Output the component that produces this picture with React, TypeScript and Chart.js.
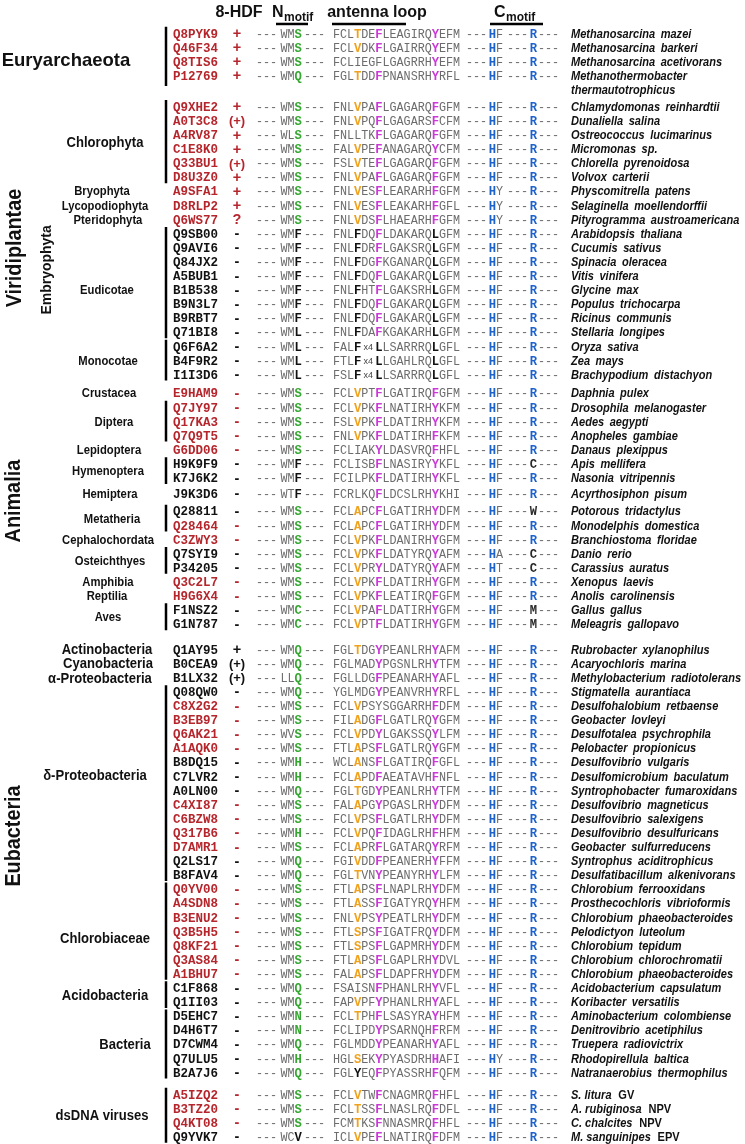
import { useEffect, useRef } from "react";
import { Chart, registerables } from "chart.js";

Chart.register(...registerables);

// ---------------- DATA ----------------
const accessions = [
  "Q8PYK9", "Q46F34", "Q8TIS6", "P12769",
  "Q9XHE2", "A0T3C8", "A4RV87", "C1E8K0", "Q33BU1", "D8U3Z0",
  "A9SFA1", "D8RLP2", "Q6WS77",
  "Q9SB00", "Q9AVI6", "Q84JX2", "A5BUB1", "B1B538", "B9N3L7", "B9RBT7", "Q71BI8",
  "Q6F6A2", "B4F9R2", "I1I3D6",
  "E9HAM9", "Q7JY97", "Q17KA3", "Q7Q9T5", "G6DD06", "H9K9F9", "K7J6K2", "J9K3D6",
  "Q28811", "Q28464", "C3ZWY3", "Q7SYI9", "P34205", "Q3C2L7", "H9G6X4", "F1NSZ2", "G1N787",
  "Q1AY95", "B0CEA9", "B1LX32",
  "Q08QW0", "C8X2G2", "B3EB97", "Q6AK21", "A1AQK0", "B8DQ15", "C7LVR2", "A0LN00", "C4XI87", "C6BZW8", "Q317B6", "D7AMR1", "Q2LS17", "B8FAV4",
  "Q0YV00", "A4SDN8", "B3ENU2", "Q3B5H5", "Q8KF21", "Q3AS84", "A1BHU7",
  "C1F868", "Q1II03",
  "D5EHC7", "D4H6T7", "D7CWM4", "Q7ULU5", "B2A7J6",
  "A5IZQ2", "B3TZ20", "Q4KT08", "Q9YVK7",
];

const redAccessions = [
  "Q8PYK9", "Q46F34", "Q8TIS6", "P12769",
  "Q9XHE2", "A0T3C8", "A4RV87", "C1E8K0", "Q33BU1", "D8U3Z0",
  "A9SFA1", "D8RLP2", "Q6WS77",
  "E9HAM9", "Q7JY97", "Q17KA3", "Q7Q9T5", "G6DD06",
  "Q28464", "C3ZWY3", "Q3C2L7", "H9G6X4",
  "C8X2G2", "B3EB97", "Q6AK21", "A1AQK0", "C4XI87", "C6BZW8", "Q317B6", "D7AMR1",
  "Q0YV00", "A4SDN8", "B3ENU2", "Q3B5H5", "Q8KF21", "Q3AS84", "A1BHU7",
  "A5IZQ2", "B3TZ20", "Q4KT08",
];

const hdfStatus = [
  "+", "+", "+", "+",
  "+", "(+)", "+", "+", "(+)", "+",
  "+", "+", "?",
  "-", "-", "-", "-", "-", "-", "-", "-",
  "-", "-", "-",
  "-", "-", "-", "-", "-", "-", "-", "-",
  "-", "-", "-", "-", "-", "-", "-", "-", "-",
  "+", "(+)", "(+)",
  "-", "-", "-", "-", "-", "-", "-", "-", "-", "-", "-", "-", "-", "-",
  "-", "-", "-", "-", "-", "-", "-",
  "-", "-",
  "-", "-", "-", "-", "-",
  "-", "-", "-", "-",
];

const nMotifs = [
  "WMS", "WMS", "WMS", "WMQ",
  "WMS", "WMS", "WLS", "WMS", "WMS", "WMS",
  "WMS", "WMS", "WMS",
  "WMF", "WMF", "WMF", "WMF", "WMF", "WMF", "WMF", "WML",
  "WML", "WML", "WML",
  "WMS", "WMS", "WMS", "WMS", "WMS", "WMF", "WMF", "WTF",
  "WMS", "WMS", "WMS", "WMS", "WMS", "WMS", "WMS", "WMC", "WMC",
  "WMQ", "WMQ", "LLQ",
  "WMQ", "WMS", "WMS", "WVS", "WMS", "WMH", "WMH", "WMQ", "WMS", "WMS", "WMH", "WMS", "WMQ", "WMQ",
  "WMS", "WMS", "WMS", "WMS", "WMS", "WMS", "WMS",
  "WMQ", "WMQ",
  "WMN", "WMN", "WMQ", "WMH", "WMQ",
  "WMS", "WMS", "WMS", "WCV",
];

// "##" marks the small "x4" insertion symbol
const antennaLoops = [
  "FCLTDEFLEAGIRQYEFM", "FCLVDKFLGAIRRQYEFM", "FCLIEGFLGAGRRHYEFM", "FGLTDDFPNANSRHYRFL",
  "FNLVPAFLGAGARQFGFM", "FNLVPQFLGAGARSFCFM", "FNLLTKFLGAGARQFGFM", "FALVPEFANAGARQYCFM", "FSLVTEFLGAGARQFGFM", "FNLVPAFLGAGARQFGFM",
  "FNLVESFLEARARHFGFM", "FNLVESFLEAKARHFGFL", "FNLVDSFLHAEARHFGFM",
  "FNLFDQFLDAKARQLGFM", "FNLFDRFLGAKSRQLGFM", "FNLFDGFKGANARQLGFM", "FNLFDQFLGAKARQLGFM", "FNLFHTFLGAKSRHLGFM", "FNLFDQFLGAKARQLGFM", "FNLFDQFLGAKARQLGFM", "FNLFDAFKGAKARHLGFM",
  "FALF##LLSARRRQLGFL", "FTLF##LLGAHLRQLGFL", "FSLF##LLSARRRQLGFL",
  "FCLVPTFLGATIRQFGFM", "FCLVPKFLNATIRHYKFM", "FSLVPKFLDATIRHYKFM", "FNLVPKFLDATIRHFKFM", "FCLIAKYLDASVRQFHFL", "FCLISBFLNASIRYYKFL", "FCILPKFLDATIRHYKFL", "FCRLKQFLDCSLRHYKHI",
  "FCLAPCFLGATIRHYDFM", "FCLAPCFLGATIRHYDFM", "FCLVPKFLDANIRHYGFM", "FCLVPKFLDATYRQYAFM", "FCLVPRYLDATYRQYAFM", "FCLVPKFLDATIRHYGFM", "FCLVPKFLEATIRQFGFM", "FCLVPAFLDATIRHYGFM", "FCLVPTFLDATIRHYGFM",
  "FGLTDGYPEANLRHYAFM", "FGLMADYPGSNLRHYTFM", "FGLLDGFPEANARHYAFL",
  "YGLMDGYPEANVRHYRFL", "FCLVPSYSGGARRHFDFM", "FILADGFLGATLRQYGFM", "FCLVPDYLGAKSSQYLFM", "FTLAPSFLGATLRQYGFM", "WCLANSFLGATIRQFGFL", "FCLAPDFAEATAVHFNFL", "FGLTGDYPEANLRHYTFM", "FALAPGYPGASLRHYDFM", "FCLVPSFLGATLRHYDFM", "FCLVPQFIDAGLRHFHFM", "FCLAPRFLGATARQYRFM", "FGIVDDFPEANERHYFFM", "FGLTVNYPEANYRHYLFM",
  "FTLAPSFLNAPLRHYDFM", "FTLASSFIGATYRQYHFM", "FNLVPSYPEATLRHYDFM", "FTLSPSFIGATFRQYDFM", "FTLSPSFLGAPMRHYDFM", "FTLAPSFLGAPLRHYDVL", "FALAPSFLDAPFRHYDFM",
  "FSAISNFPHANLRHYVFL", "FAPVPFYPHANLRHYAFL",
  "FCLTPHFLSASYRAYHFM", "FCLIPDYPSARNQHFRFM", "FGLMDDYPEANARHYAFL", "HGLSEKYPYASDRHHAFI", "FGLYEQFPYASSRHFQFM",
  "FCLVTWFCNAGMRQFHFL", "FCLTSSFLNASLRQFDFL", "FCMTKSFNNASMRQFHFL", "ICLVPEFLNATIRQFDFM",
];

const cMotifHis = [
  "HF", "HF", "HF", "HF",
  "HF", "HF", "HF", "HF", "HF", "HF",
  "HY", "HY", "HY",
  "HF", "HF", "HF", "HF", "HF", "HF", "HF", "HF",
  "HF", "HF", "HF",
  "HF", "HF", "HF", "HF", "HF", "HF", "HF", "HF",
  "HF", "HF", "HF", "HA", "HT", "HF", "HF", "HF", "HF",
  "HF", "HF", "HF",
  "HF", "HF", "HF", "HF", "HF", "HF", "HF", "HF", "HF", "HF", "HF", "HF", "HF", "HF",
  "HF", "HF", "HF", "HF", "HF", "HF", "HF",
  "HF", "HF",
  "HF", "HF", "HF", "HY", "HF",
  "HF", "HF", "HF", "HF",
];

const cMotifArg = [
  "R", "R", "R", "R",
  "R", "R", "R", "R", "R", "R",
  "R", "R", "R",
  "R", "R", "R", "R", "R", "R", "R", "R",
  "R", "R", "R",
  "R", "R", "R", "R", "R", "C", "R", "R",
  "W", "R", "R", "C", "C", "R", "R", "M", "M",
  "R", "R", "R",
  "R", "R", "R", "R", "R", "R", "R", "R", "R", "R", "R", "R", "R", "R",
  "R", "R", "R", "R", "R", "R", "R",
  "R", "R",
  "R", "R", "R", "R", "R",
  "R", "R", "R", "R",
];

// "|" separates the italic name from an upright suffix
const species = [
  "Methanosarcina mazei", "Methanosarcina barkeri", "Methanosarcina acetivorans", "Methanothermobacter",
  "Chlamydomonas reinhardtii", "Dunaliella salina", "Ostreococcus lucimarinus", "Micromonas sp.", "Chlorella pyrenoidosa", "Volvox carterii",
  "Physcomitrella patens", "Selaginella moellendorffii", "Pityrogramma austroamericana",
  "Arabidopsis thaliana", "Cucumis sativus", "Spinacia oleracea", "Vitis vinifera", "Glycine max", "Populus trichocarpa", "Ricinus communis", "Stellaria longipes",
  "Oryza sativa", "Zea mays", "Brachypodium distachyon",
  "Daphnia pulex", "Drosophila melanogaster", "Aedes aegypti", "Anopheles gambiae", "Danaus plexippus", "Apis mellifera", "Nasonia vitripennis", "Acyrthosiphon pisum",
  "Potorous tridactylus", "Monodelphis domestica", "Branchiostoma floridae", "Danio rerio", "Carassius auratus", "Xenopus laevis", "Anolis carolinensis", "Gallus gallus", "Meleagris gallopavo",
  "Rubrobacter xylanophilus", "Acaryochloris marina", "Methylobacterium radiotolerans",
  "Stigmatella aurantiaca", "Desulfohalobium retbaense", "Geobacter lovleyi", "Desulfotalea psychrophila", "Pelobacter propionicus", "Desulfovibrio vulgaris", "Desulfomicrobium baculatum", "Syntrophobacter fumaroxidans", "Desulfovibrio magneticus", "Desulfovibrio salexigens", "Desulfovibrio desulfuricans", "Geobacter sulfurreducens", "Syntrophus aciditrophicus", "Desulfatibacillum alkenivorans",
  "Chlorobium ferrooxidans", "Prosthecochloris vibrioformis", "Chlorobium phaeobacteroides", "Pelodictyon luteolum", "Chlorobium tepidum", "Chlorobium chlorochromatii", "Chlorobium phaeobacteroides",
  "Acidobacterium capsulatum", "Koribacter versatilis",
  "Aminobacterium colombiense", "Denitrovibrio acetiphilus", "Truepera radiovictrix", "Rhodopirellula baltica", "Natranaerobius thermophilus",
  "S. litura|GV", "A. rubiginosa|NPV", "C. chalcites|NPV", "M. sanguinipes|EPV",
];
const speciesContinuation = { P12769: "thermautotrophicus" };

// taxon groups: name, first member, last member
const taxonNames = [
  "Euryarchaeota", "Chlorophyta", "Bryophyta", "Lycopodiophyta", "Pteridophyta", "Eudicotae", "Monocotae",
  "Crustacea", "Diptera", "Lepidoptera", "Hymenoptera", "Hemiptera", "Metatheria", "Cephalochordata",
  "Osteichthyes", "Amphibia", "Reptilia", "Aves", "Actinobacteria", "Cyanobacteria", "α-Proteobacteria",
  "δ-Proteobacteria", "Chlorobiaceae", "Acidobacteria", "Bacteria", "dsDNA viruses",
];
const taxonFirst = [
  "Q8PYK9", "Q9XHE2", "A9SFA1", "D8RLP2", "Q6WS77", "Q9SB00", "Q6F6A2",
  "E9HAM9", "Q7JY97", "G6DD06", "H9K9F9", "J9K3D6", "Q28811", "C3ZWY3",
  "Q7SYI9", "Q3C2L7", "H9G6X4", "F1NSZ2", "Q1AY95", "B0CEA9", "B1LX32",
  "Q08QW0", "Q0YV00", "C1F868", "D5EHC7", "A5IZQ2",
];
const taxonLast = [
  "P12769", "D8U3Z0", "A9SFA1", "D8RLP2", "Q6WS77", "Q71BI8", "I1I3D6",
  "E9HAM9", "Q7Q9T5", "G6DD06", "K7J6K2", "J9K3D6", "Q28464", "C3ZWY3",
  "P34205", "Q3C2L7", "H9G6X4", "G1N787", "Q1AY95", "B0CEA9", "B1LX32",
  "B8FAV4", "A1BHU7", "Q1II03", "B2A7J6", "Q9YVK7",
];

const kingdomNames = ["Viridiplantae", "Embryophyta", "Animalia", "Eubacteria"];

const headerLabels = ["8-HDF", "N", "antenna loop", "C"];

// ---------------- LAYOUT / STYLE ----------------
const rowGapBefore: Record<string, number> = {
  Q9XHE2: 1.2, E9HAM9: 0.33, J9K3D6: 0.1, Q28811: 0.27, Q1AY95: 0.8, A5IZQ2: 0.55,
};
const PX_TOP = 33;
const ROW_PX = 14.1;
const H = 1144;
const W = 745;

const L = {
  acc: 173, sign: 237, dash1: 256, nMotif: 280.5, dash2: 304, antenna: 333, dash3: 466,
  hf: 489, dash4: 507, r: 530, dash5: 538, species: 571, bar: 166, pitch: 7.06,
};

const taxonStyle: Record<string, { x: number; size: number; sx: number; dy: number }> = {
  Euryarchaeota: { x: 66, size: 18.5, sx: 1, dy: 0.4 },
  Chlorophyta: { x: 105, size: 14.5, sx: 0.9, dy: 0 },
  Eudicotae: { x: 107, size: 12.5, sx: 0.9, dy: 0.5 },
  Actinobacteria: { x: 107, size: 14.5, sx: 0.9, dy: 0 },
  Cyanobacteria: { x: 108, size: 14.5, sx: 0.9, dy: 0 },
  "α-Proteobacteria": { x: 100, size: 14.5, sx: 0.9, dy: 0 },
  "δ-Proteobacteria": { x: 95, size: 14.5, sx: 0.9, dy: -0.6 },
  Chlorobiaceae: { x: 105, size: 14.5, sx: 0.9, dy: 0.5 },
  Acidobacteria: { x: 105, size: 14.5, sx: 0.9, dy: 0 },
  Bacteria: { x: 125, size: 14.5, sx: 0.9, dy: 0 },
  "dsDNA viruses": { x: 102, size: 14.5, sx: 0.9, dy: 0 },
};
const smallTaxonX: Record<string, number> = {
  Bryophyta: 102, Lycopodiophyta: 105, Pteridophyta: 108, Monocotae: 108, Crustacea: 109, Diptera: 114,
  Lepidoptera: 109, Hymenoptera: 108, Hemiptera: 110, Metatheria: 112, Cephalochordata: 108,
  Osteichthyes: 110, Amphibia: 108, Reptilia: 107, Aves: 108,
};
// rotated kingdom labels: center (row units), x px, font size
const kingdomStyle = [
  { row: 15.25, x: 15, size: 22 },
  { row: 16.8, x: 47, size: 15.5 },
  { row: 33.2, x: 14, size: 22 },
  { row: 56.95, x: 14, size: 22 },
];

const C = {
  red: "#b5262c", gray: "#6c6c6c", orange: "#f0a21c", magenta: "#cc38d8",
  green: "#36a832", blue: "#1d62cc", black: "#111111",
};
const MONO = '"Liberation Mono", "DejaVu Sans Mono", monospace';
const SANS = '"Liberation Sans", Arial, sans-serif';

const plainAt6 = ["Q8TIS6", "C8X2G2"];

function rowPositions(): number[] {
  const pos: number[] = [];
  let v = 0;
  accessions.forEach((a, i) => {
    if (i > 0) v += 1 + (rowGapBefore[a] ?? 0);
    pos.push(v);
  });
  return pos;
}

function antennaStyle(seq: string, i: number, acc: string): string {
  const c = seq[i];
  if (i === 3) {
    if ("VTAS".includes(c)) return "o";
    if ("FY".includes(c)) return "k";
  }
  if (i === 6) {
    if (plainAt6.includes(acc)) return "n";
    if ("FY".includes(c)) return "m";
    if (c === "L") return "k";
  }
  if (i === 14) {
    if ("FYH".includes(c)) return "m";
    if (c === "L") return "k";
  }
  return "n";
}

function drawText(ctx: CanvasRenderingContext2D, t: string, x: number, y: number, font: string, color: string, align: CanvasTextAlign, sx = 1) {
  ctx.save();
  ctx.font = font;
  ctx.fillStyle = color;
  ctx.textAlign = align;
  ctx.textBaseline = "alphabetic";
  ctx.translate(x, y);
  ctx.scale(sx, 1);
  ctx.fillText(t, 0, 0);
  ctx.restore();
}

function drawSpecies(ctx: CanvasRenderingContext2D, s: string, x: number, y: number) {
  const [ital, plain] = s.split("|");
  ctx.save();
  ctx.translate(x, y);
  ctx.scale(0.85, 1);
  ctx.fillStyle = C.black;
  ctx.textAlign = "left";
  ctx.textBaseline = "alphabetic";
  ctx.font = `italic bold 13px ${SANS}`;
  let cx = 0;
  if (plain !== undefined) {
    ctx.fillText(ital, 0, 0);
    cx = ctx.measureText(ital).width + 8;
    ctx.font = `bold 13px ${SANS}`;
    ctx.fillText(plain, cx, 0);
  } else {
    const words = ital.split(" ");
    words.forEach((w, k) => {
      ctx.fillText(w, cx, 0);
      cx += ctx.measureText(w).width + (k < words.length - 1 ? 6.5 : 0);
    });
  }
  ctx.restore();
}

const textPlugin = {
  id: "alignmentText",
  afterDatasetsDraw(chart: any) {
    const ctx: CanvasRenderingContext2D = chart.ctx;
    const xs = chart.scales.x;
    const ys = chart.scales.y;
    const px = (v: number) => xs.getPixelForValue(v);
    const py = (v: number) => ys.getPixelForValue(v);
    const pos = rowPositions();
    const pitch = px(L.pitch) - px(0);

    const cell = (start: number, i: number) => px(start) + (i + 0.5) * pitch;
    const ch = (c: string, x: number, y: number, style: string) => {
      let color = C.gray;
      let bold = true;
      if (style === "n") { color = C.gray; bold = false; }
      else if (style === "o") color = C.orange;
      else if (style === "m") color = C.magenta;
      else if (style === "g") color = C.green;
      else if (style === "b") color = C.blue;
      else if (style === "k") color = C.black;
      else if (style === "d") color = "#2a2a2a";
      const font = bold ? `bold 13px ${MONO}` : `12.5px ${MONO}`;
      drawText(ctx, c, x, y, font, color, "center", 0.94);
    };
    const dashes = (start: number, y: number) => {
      for (let i = 0; i < 3; i++) ch("-", cell(start, i), y, "n");
    };

    // header
    const hy = py(-1.56) + 5.8;
    drawText(ctx, headerLabels[0], px(239), hy, `bold 16px ${SANS}`, C.black, "center");
    drawText(ctx, headerLabels[1], px(272), hy, `bold 16px ${SANS}`, C.black, "left");
    drawText(ctx, "motif", px(284), hy + 4.5, `bold 12px ${SANS}`, C.black, "left");
    drawText(ctx, headerLabels[2], px(377), hy, `bold 16px ${SANS}`, C.black, "center");
    drawText(ctx, headerLabels[3], px(494), hy, `bold 16px ${SANS}`, C.black, "left");
    drawText(ctx, "motif", px(506), hy + 4.5, `bold 12px ${SANS}`, C.black, "left");

    // rows
    accessions.forEach((acc, i) => {
      const yc = py(pos[i]);
      const yb = yc + 4.5;
      const isRed = redAccessions.includes(acc);
      drawText(ctx, acc, px(L.acc), yb, `bold 12.5px ${MONO}`, isRed ? C.red : C.black, "left");
      const sgn = hdfStatus[i];
      const sFont = sgn === "(+)" ? `bold 13px ${SANS}` : `bold 14.5px ${SANS}`;
      drawText(ctx, sgn, px(L.sign), yc + 5, sFont, isRed ? C.red : C.black, "center");

      dashes(L.dash1, yb);
      const nm = nMotifs[i];
      ch(nm[0], cell(L.nMotif, 0), yb, "n");
      ch(nm[1], cell(L.nMotif, 1), yb, "n");
      ch(nm[2], cell(L.nMotif, 2), yb, "SQHNC".includes(nm[2]) ? "g" : "k");
      dashes(L.dash2, yb);

      const seq = antennaLoops[i];
      let k = 0;
      while (k < seq.length) {
        if (seq.substr(k, 2) === "##") {
          drawText(ctx, "x4", px(L.antenna) + (k + 1) * pitch, yb - 0.5, `9px ${SANS}`, "#444", "center");
          k += 2;
          continue;
        }
        ch(seq[k], cell(L.antenna, k), yb, antennaStyle(seq, k, acc));
        k++;
      }
      dashes(L.dash3, yb);
      const hf = cMotifHis[i];
      ch(hf[0], cell(L.hf, 0), yb, "b");
      ch(hf[1], cell(L.hf, 1), yb, "n");
      dashes(L.dash4, yb);
      const r = cMotifArg[i];
      ch(r, cell(L.r, 0), yb, r === "R" ? "b" : "d");
      dashes(L.dash5, yb);

      drawSpecies(ctx, species[i], px(L.species), yc + 4.5);
      const cont = (speciesContinuation as any)[acc];
      if (cont) drawSpecies(ctx, cont, px(L.species), py(pos[i] + 1) + 4.5);
    });

    // taxon labels
    taxonNames.forEach((name, t) => {
      const a = pos[accessions.indexOf(taxonFirst[t])];
      const b = pos[accessions.indexOf(taxonLast[t])];
      const st = taxonStyle[name] ?? { x: smallTaxonX[name], size: 12.5, sx: 0.9, dy: 0 };
      const y = py((a + b) / 2 + st.dy) + st.size * 0.36;
      drawText(ctx, name, px(st.x), y, `bold ${st.size}px ${SANS}`, C.black, "center", st.sx);
    });

    // rotated kingdom labels
    kingdomNames.forEach((name, k) => {
      const st = kingdomStyle[k];
      ctx.save();
      ctx.translate(px(st.x), py(st.row));
      ctx.rotate(-Math.PI / 2);
      ctx.scale(0.9, 1);
      ctx.font = `bold ${st.size}px ${SANS}`;
      ctx.fillStyle = C.black;
      ctx.textAlign = "center";
      ctx.textBaseline = "middle";
      ctx.fillText(name, 0, 0);
      ctx.restore();
    });
  },
};

export default function App() {
  const ref = useRef<HTMLCanvasElement | null>(null);

  useEffect(() => {
    if (!ref.current) return;
    const pos = rowPositions();
    const datasets: any[] = [
      {
        label: "rows",
        data: accessions.map((_, i) => ({ x: L.acc, y: pos[i] })),
        pointRadius: 0,
        showLine: false,
      },
    ];
    taxonNames.forEach((name, t) => {
      if (taxonFirst[t] === taxonLast[t]) return;
      const a = pos[accessions.indexOf(taxonFirst[t])];
      const b = pos[accessions.indexOf(taxonLast[t])];
      const endExtra = name === "Euryarchaeota" ? 0.75 : 0.45;
      datasets.push({
        label: name,
        data: [{ x: L.bar, y: a - 0.45 }, { x: L.bar, y: b + endExtra }],
        showLine: true,
        borderColor: "#000",
        borderWidth: 2.5,
        pointRadius: 0,
        fill: false,
      });
    });
    const underlines = [[276, 308], [332, 406], [490, 543]];
    underlines.forEach(([x0, x1], k) => {
      datasets.push({
        label: "ul" + k,
        data: [{ x: x0, y: -0.64 }, { x: x1, y: -0.64 }],
        showLine: true,
        borderColor: "#000",
        borderWidth: 2.5,
        pointRadius: 0,
        fill: false,
      });
    });

    const chart = new Chart(ref.current, {
      type: "scatter",
      data: { datasets },
      options: {
        responsive: false,
        maintainAspectRatio: false,
        animation: false,
        events: [],
        layout: { padding: 0, autoPadding: false },
        plugins: { legend: { display: false }, tooltip: { enabled: false }, title: { display: false } },
        scales: {
          x: { type: "linear", min: 0, max: W, display: false },
          y: { type: "linear", min: -PX_TOP / ROW_PX, max: (H - PX_TOP) / ROW_PX, reverse: true, display: false },
        },
      } as any,
      plugins: [textPlugin as any],
    });
    if ((document as any).fonts && (document as any).fonts.ready) {
      (document as any).fonts.ready.then(() => chart.draw());
    }
    return () => chart.destroy();
  }, []);

  return (
    <div style={{ position: "absolute", left: 0, top: 0, width: W, height: H, background: "#fff", overflow: "hidden" }}>
      <canvas ref={ref} width={W} height={H} style={{ display: "block", width: W, height: H }} />
    </div>
  );
}
